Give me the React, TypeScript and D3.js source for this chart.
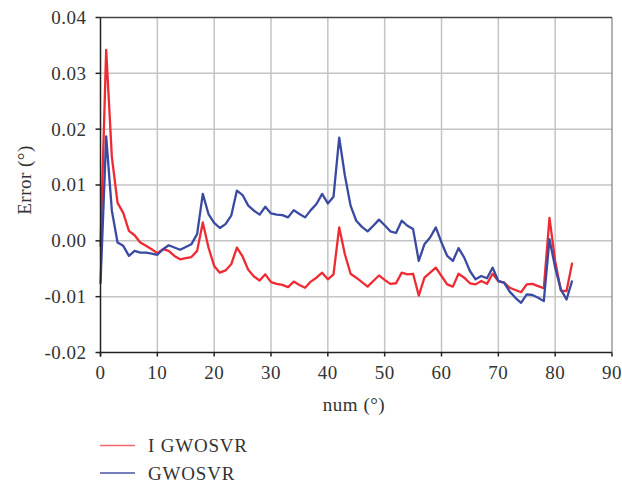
import * as d3 from 'd3';
import React from 'react';

// x positions (num) of the samples
const nums = d3.range(0, 84);

// I GWOSVR error
const iGwosvr = [
	-0.001, 0.0342, 0.015, 0.0068, 0.005, 0.0018, 0.001, -0.0003, -0.0009, -0.0015,
	-0.0022, -0.0015, -0.0018, -0.0027, -0.0033, -0.0031, -0.0029, -0.0018, 0.0033, -0.0012,
	-0.0045, -0.0057, -0.0053, -0.0042, -0.0012, -0.0028, -0.0052, -0.0064, -0.0071, -0.006,
	-0.0074, -0.0077, -0.0079, -0.0083, -0.0073, -0.0079, -0.0084, -0.0073, -0.0066, -0.0057,
	-0.0069, -0.006, 0.0024, -0.0024, -0.0059, -0.0066, -0.0074, -0.0082, -0.0072, -0.0062,
	-0.007, -0.0077, -0.0076, -0.0057, -0.006, -0.0059, -0.0098, -0.0066, -0.0057, -0.0048,
	-0.0063, -0.0078, -0.0082, -0.0059, -0.0066, -0.0076, -0.0078, -0.0072, -0.0077, -0.0059,
	-0.0072, -0.0075, -0.0084, -0.0088, -0.0092, -0.0078, -0.0077, -0.0081, -0.0085, 0.0041,
	-0.0036, -0.0089, -0.009, -0.0039
];

// GWOSVR error
const gwosvr = [
	-0.0077, 0.0187, 0.0054, -0.0003, -0.0009, -0.0027, -0.0018, -0.0021, -0.0021, -0.0023,
	-0.0025, -0.0015, -0.0008, -0.0012, -0.0016, -0.0011, -0.0006, 0.0012, 0.0084, 0.0048,
	0.0032, 0.0023, 0.003, 0.0045, 0.009, 0.0082, 0.0063, 0.0054, 0.0047, 0.0061,
	0.0049, 0.0047, 0.0046, 0.0042, 0.0055, 0.0048, 0.0042, 0.0055, 0.0066, 0.0084,
	0.0067, 0.0079, 0.0185, 0.0117, 0.0063, 0.0036, 0.0025, 0.0017, 0.0027, 0.0038,
	0.0028, 0.0017, 0.0014, 0.0036, 0.0027, 0.0021, -0.0036, -0.0006, 0.0006, 0.0024,
	-0.0003, -0.0027, -0.0036, -0.0013, -0.003, -0.0054, -0.0069, -0.0063, -0.0067, -0.0048,
	-0.0072, -0.0075, -0.0091, -0.0102, -0.0111, -0.0096, -0.0097, -0.0102, -0.0108, 0.0003,
	-0.0048, -0.0087, -0.0105, -0.0071
];

const xTicks = [0, 10, 20, 30, 40, 50, 60, 70, 80, 90];
const yTicks = [-0.02, -0.01, 0, 0.01, 0.02, 0.03, 0.04];

const seriesNames = ['I GWOSVR', 'GWOSVR'];
const seriesColors = ['#ee2b33', '#3a4aa2'];
const legendColors = ['#f06a6e', '#4a55a4'];

const W = 622;
const H = 485;
const margin = { top: 17.5, right: 10, bottom: 132.5, left: 100.5 };
const font = '"Liberation Serif", "Times New Roman", serif';

export default function App() {
	const x = d3.scaleLinear().domain([0, 90]).range([margin.left, W - margin.right]);
	const y = d3.scaleLinear().domain([-0.02, 0.04]).range([H - margin.bottom, margin.top]);

	const line = d3.line<number>()
		.x((d, i) => x(nums[i]))
		.y(d => y(d));

	const series = [iGwosvr, gwosvr];

	return (
		<div style={{ position: 'absolute', left: 0, top: 0 }}>
			<svg width={W} height={H} style={{ display: 'block', background: '#fff' }}>
				{/* grid */}
				<g stroke="#c4c4c4" strokeWidth={1.5}>
					{xTicks.slice(1, -1).map(t => (
						<line key={'gx' + t} x1={x(t)} x2={x(t)} y1={y(0.04)} y2={y(-0.02)} />
					))}
					{yTicks.slice(1, -1).map(t => (
						<line key={'gy' + t} x1={x(0)} x2={x(90)} y1={y(t)} y2={y(t)} />
					))}
				</g>
				{/* frame */}
				<line x1={x(90)} x2={x(90)} y1={y(0.04)} y2={y(-0.02)} stroke="#808080" strokeWidth={1.2} />
				<line x1={x(0)} x2={x(90)} y1={y(0.04)} y2={y(0.04)} stroke="#444" strokeWidth={1.6} />

				{/* lines */}
				{series.map((s, k) => (
					<path key={k} d={line(s) || ''} fill="none" stroke={seriesColors[k]} strokeWidth={2.3} strokeLinejoin="round" />
				))}

				{/* axes */}
				<g stroke="#222" strokeWidth={1.5}>
					<line x1={x(0)} x2={x(0)} y1={y(0.04)} y2={y(-0.02) + 4} />
					<line x1={x(0)} x2={x(90)} y1={y(-0.02)} y2={y(-0.02)} />
					{yTicks.map(t => (
						<line key={'ty' + t} x1={x(0) - 5} x2={x(0)} y1={y(t)} y2={y(t)} />
					))}
					{xTicks.map(t => (
						<line key={'tx' + t} x1={x(t)} x2={x(t)} y1={y(-0.02)} y2={y(-0.02) + 4} />
					))}
				</g>
				<g fontFamily={font} fontSize={19} fill="#333" letterSpacing={0.5}>
					{yTicks.map(t => (
						<text key={'ly' + t} x={x(0) - 14} y={y(t)} dy="0.34em" textAnchor="end">{t.toFixed(2)}</text>
					))}
					{xTicks.map(t => (
						<text key={'lx' + t} x={x(t)} y={379} textAnchor="middle">{t}</text>
					))}
					<text x={354} y={411} textAnchor="middle">num (°)</text>
					<text transform="translate(31,180) rotate(-90)" textAnchor="middle">Error (°)</text>
				</g>

				{/* legend */}
				{seriesNames.map((n, k) => (
					<g key={n} transform={`translate(0, ${445.5 + k * 27.5})`}>
						<line x1={100} x2={135} y1={0} y2={0} stroke={legendColors[k]} strokeWidth={1.6} />
						<text x={148} y={6.5} fontFamily={font} fontSize={19} fill="#333" letterSpacing={0.8}>{n}</text>
					</g>
				))}
			</svg>
		</div>
	);
}
